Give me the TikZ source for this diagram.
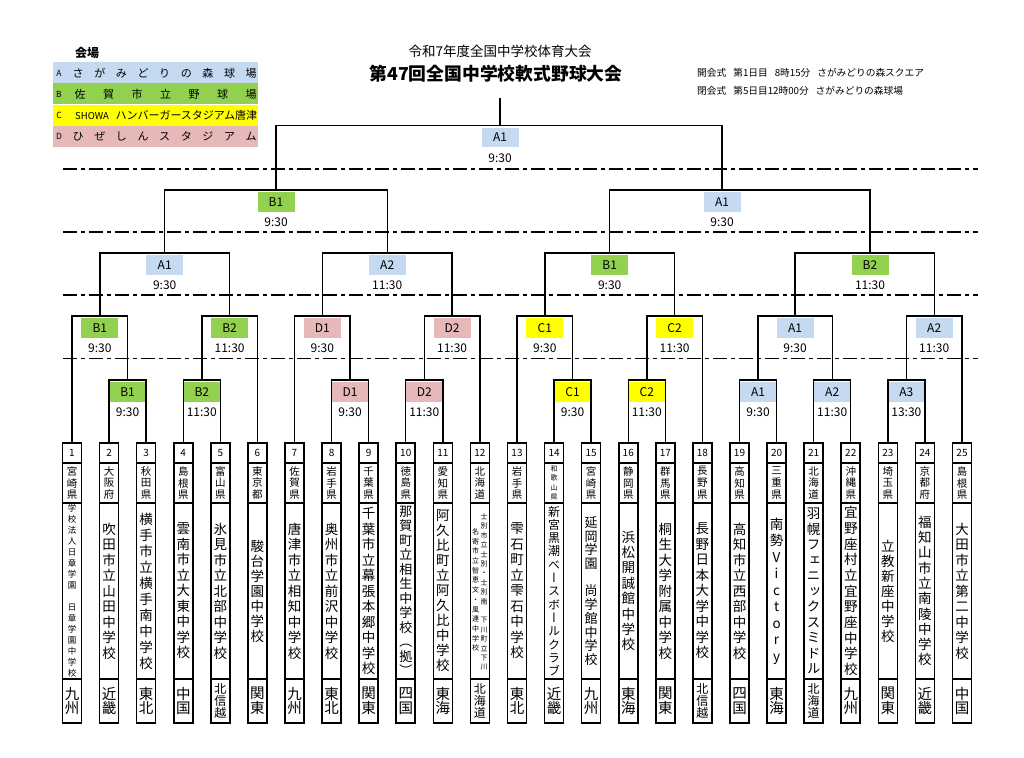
\documentclass[tikz,border=0pt]{standalone}
\usepackage{fontspec}
\setmainfont{Noto Sans CJK JP}
\newfontfamily\vertfont[RawFeature=+vert]{Noto Sans CJK JP}

\definecolor{cA}{RGB}{197,217,241}
\definecolor{cB}{RGB}{146,208,80}
\definecolor{cC}{RGB}{255,255,0}
\definecolor{cD}{RGB}{230,184,183}

\makeatletter
\newcommand\gapc{}
\newcommand\vstk[3]{\vbox{\vertfont\fontsize{#1}{#2}\selectfont\baselineskip=#2pt\relax\lineskiplimit=-100pt\relax\lineskip=0pt\relax\@tfor\vstkitem:=#3\do{\hbox to 18pt{\hss\vstkitem\hss}}}}
\makeatother

\newcommand\pf[1]{\vstk{10.5}{11.8}{#1}}
\newcommand\pfs[1]{\vstk{7}{9.5}{#1}}
\newcommand\rg[1]{\vstk{14.5}{14.5}{#1}}
\newcommand\rgl[1]{\vstk{12}{12}{#1}}

\newcommand\team[6]{%
  \node[numbox] (n#1) at ({72+37.0833*(#1-1)},453) {#1};
  \node[prefbox] (pf#1) at ({72+37.0833*(#1-1)},483) {#2};
  \node[schoolbox] (sc#1) at ({72+37.0833*(#1-1)},591) {\vstk{#3}{#4}{#5}};
  \node[regbox] (rg#1) at ({72+37.0833*(#1-1)},701) {#6};
}

\newcommand\match[6]{%
  \coordinate (#1) at (#2,#3);
  \node[venue, fill=#4] (#1v) at (#2,#3+12) {#5};
  \node[timetxt] (#1t) at (#2,#3+32.5) {#6};
}

\begin{document}
\begin{tikzpicture}[x=1pt,y=-1pt,
  cell/.style={draw, line width=1.6pt, minimum width=19pt, inner sep=0pt, outer sep=0pt},
  numbox/.style={cell, minimum height=20pt, font=\fontsize{10}{12}\selectfont},
  prefbox/.style={cell, minimum height=40pt},
  schoolbox/.style={cell, minimum height=176pt},
  regbox/.style={cell, minimum height=44pt},
  bracket/.style={line width=1.4pt},
  sepline/.style={line width=1.8pt, dash pattern=on 14pt off 4pt on 4pt off 4pt},
  venue/.style={minimum width=37pt, minimum height=19.5pt, inner sep=0pt, font=\fontsize{12}{14}\selectfont},
  timetxt/.style={inner sep=0pt, font=\fontsize{12}{14}\selectfont},
  legrow/.style={minimum width=205pt, minimum height=21pt, inner sep=0pt},
  legletter/.style={inner sep=0pt, font=\fontsize{8.5}{9}\selectfont},
  legtext/.style={anchor=west, inner sep=0pt, font=\fontsize{11}{12}\selectfont},
  infotext/.style={anchor=west, inner sep=0pt, font=\fontsize{9.7}{11}\selectfont}
]
\useasboundingbox (0,0) rectangle (1024,757);
\fill[white] (0,0) rectangle (1024,757);

% ---------- legend ----------
\node[inner sep=0pt, font=\fontsize{12}{13}\selectfont\bfseries] (legtitle) at (87,53) {会場};
\node[legrow, fill=cA] (legA) at (155.5,73) {};
\node[legrow, fill=cB] (legB) at (155.5,94) {};
\node[legrow, fill=cC] (legC) at (155.5,115.5) {};
\node[legrow, fill=cD] (legD) at (155.5,136.5) {};
\node[legletter] (legAl) at (59,73) {A};
\node[legletter] (legBl) at (59,94) {B};
\node[legletter] (legCl) at (59,115.5) {C};
\node[legletter] (legDl) at (59,136.5) {D};
\node[legtext] (legAt) at (72.5,73) {\hbox to 184pt{さ\hfill が\hfill み\hfill ど\hfill り\hfill の\hfill 森\hfill 球\hfill 場}};
\node[legtext] (legBt) at (74.5,94) {\hbox to 182pt{佐\hfill 賀\hfill 市\hfill 立\hfill 野\hfill 球\hfill 場}};
\node[legtext] (legCt) at (75,115.5) {\hbox to 182pt{{\fontsize{9.5}{10}\selectfont SHOWA}\hfill ハンバーガースタジアム唐津}};
\node[legtext] (legDt) at (72.5,136.5) {\hbox to 184pt{ひ\hfill ぜ\hfill し\hfill ん\hfill ス\hfill タ\hfill ジ\hfill ア\hfill ム}};

% ---------- titles ----------
\node[inner sep=0pt, font=\fontsize{13.5}{15}\selectfont] (title1) at (500,51) {令和7年度全国中学校体育大会};
\node[inner sep=0pt, font=\fontsize{17.8}{20}\selectfont\bfseries] (title2) at (496,74) {第47回全国中学校軟式野球大会};
\node[infotext] (opening) at (697,73) {開会式\hspace{7pt}第1日目\hspace{7pt}8時15分\hspace{7pt}さがみどりの森スクエア};
\node[infotext] (closing) at (697,91) {閉会式\hspace{7pt}第5日目12時00分\hspace{7pt}さがみどりの森球場};

% ---------- separator lines ----------
\coordinate (d1a) at (63,169);   \coordinate (d1b) at (978,169);
\coordinate (d2a) at (63,232);   \coordinate (d2b) at (978,232);
\coordinate (d3a) at (63,295);   \coordinate (d3b) at (978,295);
\coordinate (d4a) at (63,358.5); \coordinate (d4b) at (978,358.5);
\draw[sepline] (d1a) -- (d1b);
\draw[sepline] (d2a) -- (d2b);
\draw[sepline] (d3a) -- (d3b);
\draw[sepline] (d4a) -- (d4b);

% ---------- teams ----------
\team{1}{\pf{宮崎県}}{8.5}{11}{学校法人日章学園\gapc 日章学園中学校}{\rg{九州}}
\team{2}{\pf{大阪府}}{13.5}{15.5}{吹田市立山田中学校}{\rg{近畿}}
\team{3}{\pf{秋田県}}{13.5}{16}{横手市立横手南中学校}{\rg{東北}}
\team{4}{\pf{島根県}}{13.5}{15.5}{雲南市立大東中学校}{\rg{中国}}
\team{5}{\pf{富山県}}{13.5}{15.5}{氷見市立北部中学校}{\rgl{北信越}}
\team{6}{\pf{東京都}}{13.5}{15}{駿台学園中学校}{\rg{関東}}
\team{7}{\pf{佐賀県}}{13.5}{15.5}{唐津市立相知中学校}{\rg{九州}}
\team{8}{\pf{岩手県}}{13.5}{15.5}{奥州市立前沢中学校}{\rg{東北}}
\team{9}{\pf{千葉県}}{13.5}{15.5}{千葉市立幕張本郷中学校}{\rg{関東}}
\team{10}{\pf{徳島県}}{13}{14.5}{那賀町立相生中学校︵拠︶}{\rg{四国}}
\team{11}{\pf{愛知県}}{13.5}{15}{阿久比町立阿久比中学校}{\rg{東海}}
\team{12}{\pf{北海道}}{7}{9.5}{\gapc}{\rgl{北海道}}
\team{13}{\pf{岩手県}}{13.5}{15.5}{雫石町立雫石中学校}{\rg{東北}}
\team{14}{\pfs{和歌山県}}{12}{13.3}{新宮黒潮ベースボールクラブ}{\rg{近畿}}
\team{15}{\pf{宮崎県}}{13}{13.7}{延岡学園\gapc 尚学館中学校}{\rg{九州}}
\team{16}{\pf{静岡県}}{13.5}{15.4}{浜松開誠館中学校}{\rg{東海}}
\team{17}{\pf{群馬県}}{13.5}{15.5}{桐生大学附属中学校}{\rg{関東}}
\team{18}{\pf{長野県}}{13.5}{15.5}{長野日本大学中学校}{\rgl{北信越}}
\team{19}{\pf{高知県}}{13.5}{15.5}{高知市立西部中学校}{\rg{四国}}
\team{20}{\pf{三重県}}{13.5}{16.5}{南勢Victory}{\rg{東海}}
\team{21}{\pf{北海道}}{13.5}{15.5}{羽幌フェニックスミドル}{\rgl{北海道}}
\team{22}{\pf{沖縄県}}{13.5}{15.7}{宜野座村立宜野座中学校}{\rg{九州}}
\team{23}{\pf{埼玉県}}{13.5}{15}{立教新座中学校}{\rg{関東}}
\team{24}{\pf{京都府}}{13.5}{15.3}{福知山市立南陵中学校}{\rg{近畿}}
\team{25}{\pf{島根県}}{13.5}{15.5}{大田市立第二中学校}{\rg{中国}}
\node[inner sep=0pt] (sc12a) at (484.2,592) {\vstk{7}{9.4}{士別市立士別・士別南\gapc 下川町立下川}};
\node[inner sep=0pt] (sc12b) at (475.7,590) {\vstk{7}{9.7}{名寄市立智恵文・風連中学校}};

% ---------- matches ----------
% round 1
\match{m23}{127.6}{380}{cB}{B1}{9:30}
\match{m45}{201.8}{380}{cB}{B2}{11:30}
\match{m89}{350.1}{380}{cD}{D1}{9:30}
\match{m1011}{424.3}{380}{cD}{D2}{11:30}
\match{m1415}{572.6}{380}{cC}{C1}{9:30}
\match{m1617}{646.8}{380}{cC}{C2}{11:30}
\match{m1920}{758.0}{380}{cA}{A1}{9:30}
\match{m2122}{832.2}{380}{cA}{A2}{11:30}
\match{m2324}{906.4}{380}{cA}{A3}{13:30}
% round 2
\match{r1}{99.8}{316}{cB}{B1}{9:30}
\match{r2}{229.6}{316}{cB}{B2}{11:30}
\match{r3}{322.3}{316}{cD}{D1}{9:30}
\match{r4}{452.1}{316}{cD}{D2}{11:30}
\match{r5}{544.8}{316}{cC}{C1}{9:30}
\match{r6}{674.6}{316}{cC}{C2}{11:30}
\match{r7}{795.1}{316}{cA}{A1}{9:30}
\match{r8}{934.2}{316}{cA}{A2}{11:30}
% round 3
\match{q1}{164.7}{253}{cA}{A1}{9:30}
\match{q2}{387.2}{253}{cA}{A2}{11:30}
\match{q3}{609.7}{253}{cB}{B1}{9:30}
\match{q4}{870}{253}{cB}{B2}{11:30}
% semifinals
\match{sf1}{276}{190}{cB}{B1}{9:30}
\match{sf2}{722}{190}{cA}{A1}{9:30}
% final
\match{fin}{500}{125.5}{cA}{A1}{9:30}
\coordinate (fintop) at (500,98);

% ---------- connectors ----------
\draw[bracket] (n2.north) |- (m23);   \draw[bracket] (n3.north) |- (m23);
\draw[bracket] (n4.north) |- (m45);   \draw[bracket] (n5.north) |- (m45);
\draw[bracket] (n8.north) |- (m89);   \draw[bracket] (n9.north) |- (m89);
\draw[bracket] (n10.north) |- (m1011); \draw[bracket] (n11.north) |- (m1011);
\draw[bracket] (n14.north) |- (m1415); \draw[bracket] (n15.north) |- (m1415);
\draw[bracket] (n16.north) |- (m1617); \draw[bracket] (n17.north) |- (m1617);
\draw[bracket] (n19.north) |- (m1920); \draw[bracket] (n20.north) |- (m1920);
\draw[bracket] (n21.north) |- (m2122); \draw[bracket] (n22.north) |- (m2122);
\draw[bracket] (n23.north) |- (m2324); \draw[bracket] (n24.north) |- (m2324);

\draw[bracket] (n1.north) |- (r1);    \draw[bracket] (m23) |- (r1);
\draw[bracket] (m45) |- (r2);         \draw[bracket] (n6.north) |- (r2);
\draw[bracket] (n7.north) |- (r3);    \draw[bracket] (m89) |- (r3);
\draw[bracket] (m1011) |- (r4);       \draw[bracket] (n12.north) |- (r4);
\draw[bracket] (n13.north) |- (r5);   \draw[bracket] (m1415) |- (r5);
\draw[bracket] (m1617) |- (r6);       \draw[bracket] (n18.north) |- (r6);
\draw[bracket] (m1920) |- (r7);       \draw[bracket] (m2122) |- (r7);
\draw[bracket] (m2324) |- (r8);       \draw[bracket] (n25.north) |- (r8);

\draw[bracket] (r1) |- (q1); \draw[bracket] (r2) |- (q1);
\draw[bracket] (r3) |- (q2); \draw[bracket] (r4) |- (q2);
\draw[bracket] (r5) |- (q3); \draw[bracket] (r6) |- (q3);
\draw[bracket] (r7) |- (q4); \draw[bracket] (r8) |- (q4);

\draw[bracket] (q1) |- (sf1); \draw[bracket] (q2) |- (sf1);
\draw[bracket] (q3) |- (sf2); \draw[bracket] (q4) |- (sf2);

\draw[bracket] (sf1) |- (fin); \draw[bracket] (sf2) |- (fin);
\draw[bracket] (fin) -- (fintop);
\end{tikzpicture}
\end{document}
